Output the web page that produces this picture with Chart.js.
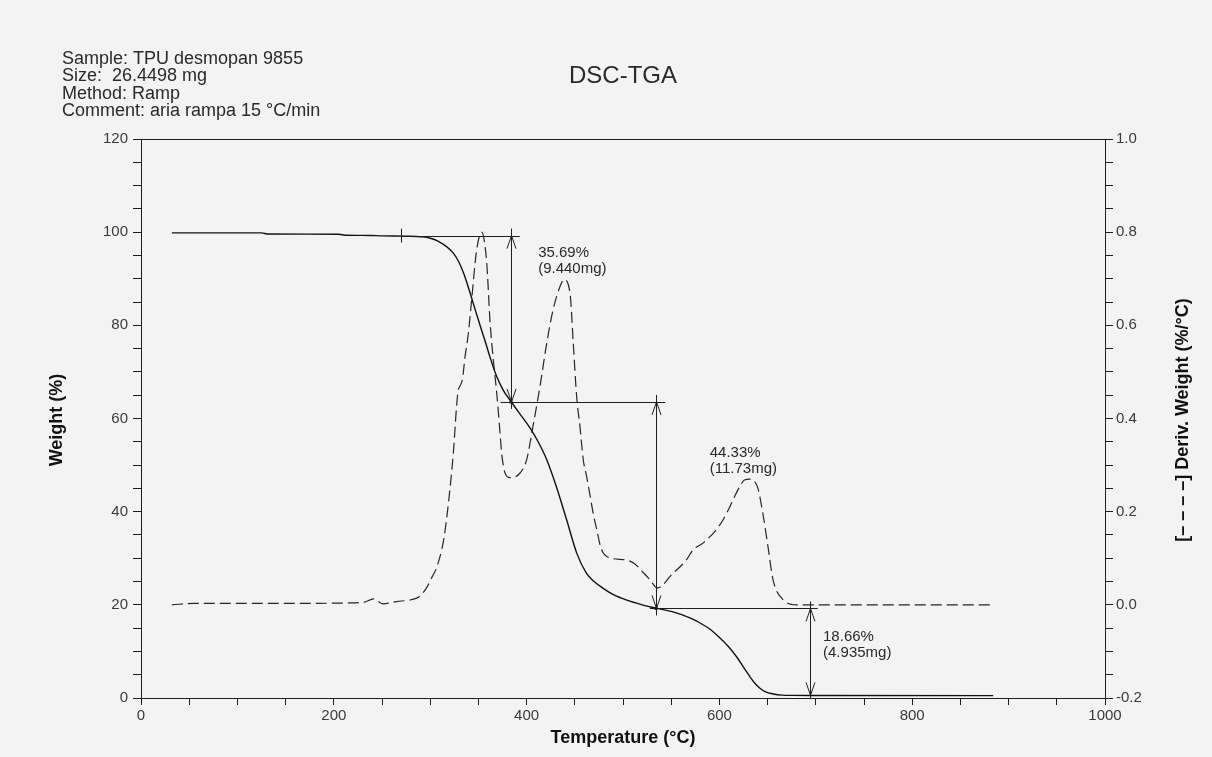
<!DOCTYPE html>
<html>
<head>
<meta charset="utf-8">
<title>DSC-TGA</title>
<script src="https://cdn.jsdelivr.net/npm/chart.js@4.4.1/dist/chart.umd.min.js"></script>
<style>
  html, body { margin: 0; padding: 0; background: #f3f3f3; }
  #wrap { width: 1212px; height: 757px; }
</style>
</head>
<body>
<div id="wrap"><canvas id="tga" width="1212" height="757"></canvas></div>
<script>
// sample info printed above the plot
const headerLines = [
  "Sample: TPU desmopan 9855",
  "Size:  26.4498 mg",
  "Method: Ramp",
  "Comment: aria rampa 15 °C/min",
];

// weight curve (solid): temperature °C -> weight %
const weightTemp = [32, 125, 132, 205, 212, 238, 250, 275, 292, 300, 308, 317, 324, 330, 335, 341, 346, 352, 357, 362, 369, 376, 384, 393, 403.5, 412, 421, 431, 441.6, 452, 462, 470, 479, 490, 504, 520, 535, 552, 569.5, 580, 590, 600.6, 610, 618, 626, 632, 637, 642, 648, 656, 665, 675, 700, 884];
const weightPct = [99.85, 99.85, 99.6, 99.55, 99.35, 99.3, 99.2, 99.15, 99.0, 98.7, 98.1, 96.9, 95.5, 93.5, 91.0, 87.2, 83.8, 79.8, 76.6, 73.2, 69.0, 66.0, 63.6, 61.0, 58.0, 55.0, 51.1, 45.3, 38.2, 31.1, 26.8, 25.0, 23.6, 22.2, 21.0, 20.0, 19.25, 18.5, 17.2, 16.1, 14.8, 12.9, 10.9, 8.8, 6.3, 4.5, 3.1, 2.1, 1.3, 0.86, 0.62, 0.56, 0.55, 0.5];

// derivative curve (dashed): temperature °C -> %/°C
const derivTemp = [32, 55, 150, 215, 232, 241, 251, 265, 280, 289, 296, 302, 307, 314, 319, 324, 327.5, 329, 331, 333.5, 336, 339.6, 343, 348.2, 353.4, 358.6, 362, 365.5, 369, 372.4, 374.1, 377.6, 382.8, 393.2, 400, 406.6, 413.9, 420.9, 427.4, 434.6, 438.8, 445, 448.4, 452, 455.4, 458.8, 462.3, 465.8, 469.2, 474, 476, 479, 483, 490, 503.8, 512, 520.7, 528, 535.5, 541, 548.8, 566, 572.6, 583.3, 600.6, 611, 614, 621.4, 626, 631.8, 636, 640, 645, 650.4, 655.6, 666, 680.5, 884];
const derivVal = [0.0, 0.003, 0.003, 0.004, 0.006, 0.013, 0.002, 0.007, 0.011, 0.018, 0.036, 0.06, 0.082, 0.14, 0.22, 0.326, 0.43, 0.46, 0.47, 0.485, 0.53, 0.583, 0.655, 0.762, 0.80, 0.735, 0.61, 0.525, 0.455, 0.37, 0.326, 0.283, 0.273, 0.283, 0.311, 0.383, 0.469, 0.562, 0.633, 0.683, 0.698, 0.67, 0.562, 0.445, 0.382, 0.311, 0.275, 0.235, 0.195, 0.15, 0.13, 0.113, 0.104, 0.099, 0.096, 0.088, 0.07, 0.054, 0.036, 0.042, 0.061, 0.097, 0.118, 0.133, 0.172, 0.211, 0.225, 0.255, 0.268, 0.27, 0.266, 0.25, 0.197, 0.125, 0.054, 0.011, 0.0, 0.0];

// step analysis of the weight curve
const stepOnsetTemp = 270;
const stepStartPct = 99.25;
const stepTemps = [384, 534, 694];
const stepLoss = [35.69, 44.33, 18.66];
const stepMass = ["9.440", "11.73", "4.935"];
const stepLineFrom = [270, 373, 528];
const stepLineTo = [393, 544, 702];

// tick labels
const xTickLabels = [0, 200, 400, 600, 800, 1000];
const yTickLabels = [0, 20, 40, 60, 80, 100, 120];
const y1TickLabels = [-0.2, 0.0, 0.2, 0.4, 0.6, 0.8, 1.0];

const INK = "#1e1e1e";
const FONT = "'Liberation Sans', Arial, sans-serif";

// where each step label sits (°C, weight %)
const stepLabelAt = [[412, 95.6], [590, 52.7], [707.5, 13.2]];

function near(list, v, eps) {
  return list.some(t => Math.abs(t - v) < eps);
}

function arrowHead(ctx, px, py, dir) {
  ctx.beginPath();
  ctx.moveTo(px - 4.5, py + dir * 13);
  ctx.lineTo(px, py);
  ctx.lineTo(px + 4.5, py + dir * 13);
  ctx.stroke();
}

const tgaDecor = {
  id: "tgaDecor",
  afterDatasetsDraw(chart) {
    const { ctx, chartArea: a } = chart;
    const x = chart.scales.x, y = chart.scales.y;
    ctx.save();
    ctx.strokeStyle = INK;
    ctx.lineWidth = 1;

    // top edge of the frame
    ctx.beginPath();
    ctx.moveTo(a.left, Math.round(a.top) + 0.5);
    ctx.lineTo(a.right, Math.round(a.top) + 0.5);
    ctx.stroke();

    // levels of each step, from the stated losses
    const levels = [stepStartPct];
    stepLoss.forEach((d, i) => levels.push(levels[i] - d));

    // onset marker
    const ox = Math.round(x.getPixelForValue(stepOnsetTemp)) + 0.5;
    const oy = y.getPixelForValue(levels[0]);
    ctx.beginPath();
    ctx.moveTo(ox, oy - 7);
    ctx.lineTo(ox, oy + 7);
    ctx.stroke();

    stepTemps.forEach((t, i) => {
      // level line
      const ly = Math.round(y.getPixelForValue(levels[i])) + 0.5;
      ctx.beginPath();
      ctx.moveTo(x.getPixelForValue(stepLineFrom[i]), ly);
      ctx.lineTo(x.getPixelForValue(stepLineTo[i]), ly);
      ctx.stroke();

      // double arrow
      const px = Math.round(x.getPixelForValue(t)) + 0.5;
      const top = y.getPixelForValue(levels[i]);
      const bot = y.getPixelForValue(levels[i + 1]);
      ctx.beginPath();
      ctx.moveTo(px, top - 7);
      ctx.lineTo(px, Math.min(bot + 7, a.bottom));
      ctx.stroke();
      arrowHead(ctx, px, top, 1);
      arrowHead(ctx, px, bot, -1);
      if (i < 2) {
        ctx.fillStyle = INK;
        ctx.fillRect(px - 2, bot - 1.5, 3, 3);
      }

      // loss label
      const [lt, lw] = stepLabelAt[i];
      const tx = x.getPixelForValue(lt);
      const ty = y.getPixelForValue(lw);
      ctx.fillStyle = "#2a2a2a";
      ctx.font = "15px " + FONT;
      ctx.textAlign = "left";
      ctx.textBaseline = "middle";
      ctx.fillText(stepLoss[i].toFixed(2) + "%", tx, ty);
      ctx.fillText("(" + stepMass[i] + "mg)", tx, ty + 16);
    });
    ctx.restore();
  },
  afterDraw(chart) {
    const { ctx, chartArea: a } = chart;
    ctx.save();
    ctx.fillStyle = "#2a2a2a";
    ctx.textBaseline = "middle";

    // sample block
    ctx.font = "18px " + FONT;
    ctx.textAlign = "left";
    headerLines.forEach((s, i) => ctx.fillText(s, 62, 59 + i * 17.5));

    // title
    ctx.font = "24px " + FONT;
    ctx.textAlign = "center";
    ctx.fillText("DSC-TGA", 623, 76);

    // axis titles
    ctx.fillStyle = "#111";
    ctx.font = "bold 18px " + FONT;
    ctx.fillText("Temperature (°C)", (a.left + a.right) / 2, 738);

    ctx.save();
    ctx.translate(57, 420);
    ctx.rotate(-Math.PI / 2);
    ctx.fillText("Weight (%)", 0, 0);
    ctx.restore();

    ctx.save();
    ctx.translate(1183, 420);
    ctx.rotate(-Math.PI / 2);
    ctx.fillText("[– – – –] Deriv. Weight (%/°C)", 0, 0);
    ctx.restore();

    ctx.restore();
  },
};

const tickFont = { family: FONT, size: 15 };
const axisGrid = {
  display: true,
  drawOnChartArea: false,
  drawTicks: true,
  tickLength: 8,
  color: INK,
  lineWidth: 1,
};

new Chart(document.getElementById("tga"), {
  type: "line",
  data: {
    datasets: [
      {
        label: "Weight",
        data: weightTemp.map((t, i) => ({ x: t, y: weightPct[i] })),
        yAxisID: "y",
        borderColor: "#111",
        borderWidth: 1.4,
        pointRadius: 0,
        cubicInterpolationMode: "monotone",
      },
      {
        label: "Deriv. Weight",
        data: derivTemp.map((t, i) => ({ x: t, y: derivVal[i] })),
        yAxisID: "y1",
        borderColor: "#262626",
        borderWidth: 1.2,
        borderDash: [11, 5],
        pointRadius: 0,
        cubicInterpolationMode: "monotone",
      },
    ],
  },
  options: {
    responsive: false,
    animation: false,
    devicePixelRatio: 1,
    layout: { padding: { top: 139, left: 0, right: 0, bottom: 0 } },
    plugins: { legend: { display: false }, tooltip: { enabled: false } },
    scales: {
      x: {
        type: "linear",
        min: 0,
        max: 1000,
        afterFit: s => { s.height = 59; },
        border: { display: true, color: INK, width: 1 },
        grid: { ...axisGrid, tickLength: 7 },
        ticks: {
          stepSize: 50,
          autoSkip: false,
          maxRotation: 0,
          padding: 2,
          color: "#3a3a3a",
          font: tickFont,
          callback: v => (near(xTickLabels, v, 0.5) ? String(v) : ""),
        },
      },
      y: {
        position: "left",
        min: 0,
        max: 120,
        afterFit: s => { s.width = 141; },
        border: { display: true, color: INK, width: 1 },
        grid: axisGrid,
        ticks: {
          stepSize: 5,
          autoSkip: false,
          padding: 5,
          color: "#3a3a3a",
          font: tickFont,
          callback: v => (near(yTickLabels, v, 0.5) ? String(v) : ""),
        },
      },
      y1: {
        position: "right",
        min: -0.2,
        max: 1.0,
        afterFit: s => { s.width = 107; },
        border: { display: true, color: INK, width: 1 },
        grid: axisGrid,
        ticks: {
          stepSize: 0.05,
          autoSkip: false,
          padding: 3,
          color: "#3a3a3a",
          font: tickFont,
          callback: v => (near(y1TickLabels, v, 0.005) ? (Math.abs(v) < 0.005 ? 0 : v).toFixed(1) : ""),
        },
      },
    },
  },
  plugins: [tgaDecor],
});
</script>
</body>
</html>
